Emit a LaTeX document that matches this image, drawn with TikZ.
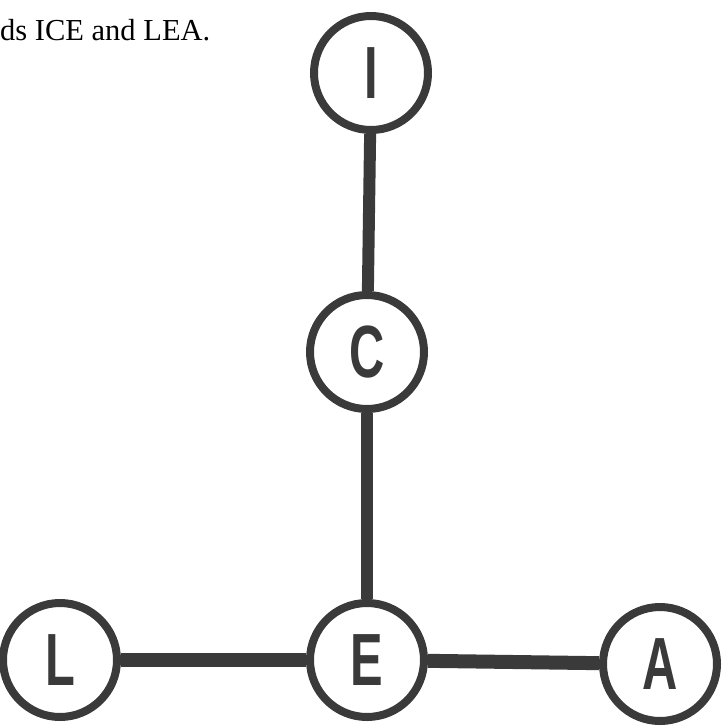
\documentclass[tikz,border=0pt]{standalone}
\usepackage{fontspec}
\usepackage{graphicx}
\setmainfont{Liberation Serif}
\newfontfamily\lettfont{Liberation Sans}
\definecolor{ink}{HTML}{3A3A3A}
\tikzset{
  letnode/.style={circle, draw=ink, line width=8pt, minimum size=114pt, inner sep=0pt,
    text=ink, font=\lettfont\bfseries\fontsize{74}{74}\selectfont},
  conn/.style={draw=ink, line width=12pt}
}
\begin{document}
\begin{tikzpicture}[x=1pt,y=-1pt]
\useasboundingbox (0,0) rectangle (721,728);
\node[anchor=base west, font=\fontsize{30.5}{34}\selectfont, inner sep=0pt] (cap) at (0,40) {ds ICE and LEA.};
\node[letnode] (I) at (371,73) {\scalebox{0.66}[1]{I}};
\node[letnode] (C) at (367,352) {\scalebox{0.66}[1]{C}};
\node[letnode] (E) at (367,660) {\scalebox{0.66}[1]{E}};
\node[letnode] (L) at (60,660) {\scalebox{0.66}[1]{L}};
\node[letnode] (A) at (660,664) {\scalebox{0.66}[1]{A}};
\draw[conn] (I) -- (C);
\draw[conn] (C) -- (E);
\draw[conn, line width=14pt] (L) -- (E);
\draw[conn, line width=14pt] (E) -- (A);
\end{tikzpicture}
\end{document}
